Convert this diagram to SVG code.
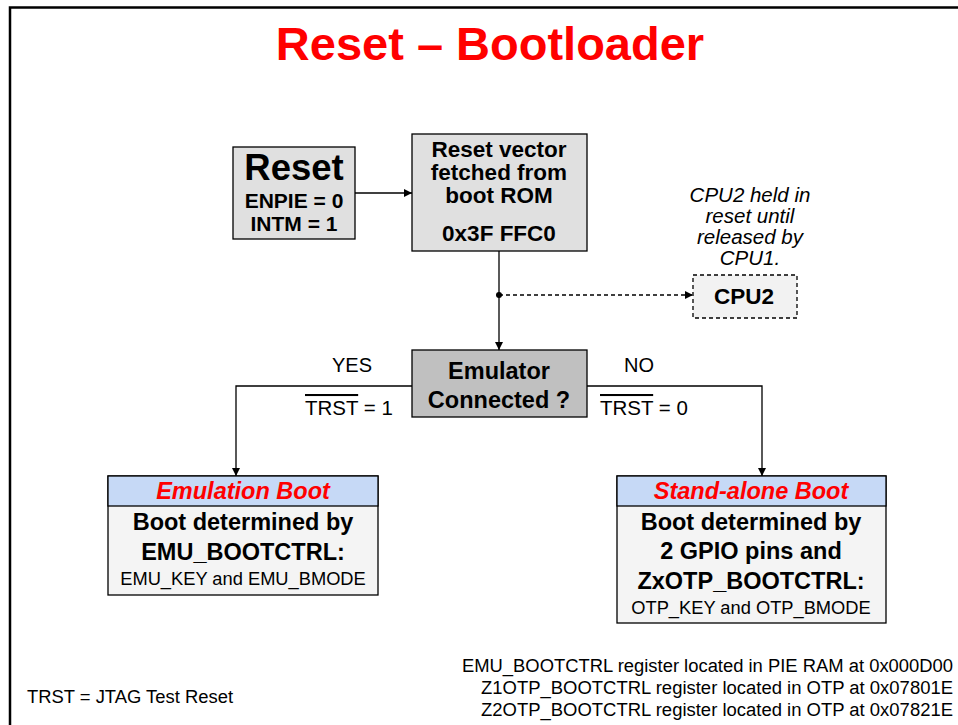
<svg xmlns="http://www.w3.org/2000/svg" width="958" height="725" viewBox="0 0 958 725">
<defs>
<marker id="ah" viewBox="0 0 10 10" refX="10" refY="5" markerWidth="8" markerHeight="8" markerUnits="userSpaceOnUse" orient="auto"><path d="M0,0 L10,5 L0,10 z" fill="#000"/></marker>
<style>
text{font-family:"Liberation Sans",Arial,sans-serif;fill:#000}
.b{font-weight:bold}
.box{stroke:#000;stroke-width:1.3}
.c{text-anchor:middle}
.line{fill:none;stroke:#000;stroke-width:1.3}
.hdr{font-weight:bold;font-style:italic;fill:#ff0000;font-size:23.5px}
.big{font-weight:bold;font-size:23.5px;text-anchor:middle}
.rv{font-weight:bold;font-size:22.5px;text-anchor:middle}
.note{font-size:20.5px;font-style:italic;text-anchor:middle}
.ft{font-size:18px}
</style>
</defs>
<rect width="958" height="725" fill="#fff"/>
<path d="M10,725 V7.5 H958" fill="none" stroke="#000" stroke-width="2.5"/>
<text x="490" y="60" class="b c" font-size="47" style="fill:#ff0000">Reset – Bootloader</text>

<g id="connectors">
<line class="line" x1="355" y1="193" x2="412" y2="193" marker-end="url(#ah)"/>
<line class="line" x1="499" y1="251" x2="499" y2="350" marker-end="url(#ah)"/>
<circle cx="499" cy="295" r="3" fill="#000"/>
<line class="line" x1="499" y1="295" x2="693" y2="295" stroke-dasharray="4,3" marker-end="url(#ah)"/>
<polyline class="line" points="412,386 236,386 236,476" marker-end="url(#ah)"/>
<polyline class="line" points="587,386 762,386 762,476" marker-end="url(#ah)"/>
</g>

<g id="reset">
<rect class="box" x="233" y="147" width="122" height="92" fill="#e0e0e0"/>
<text x="294" y="180" class="b c" font-size="36.5">Reset</text>
<text x="294" y="208" class="b c" font-size="21">ENPIE = 0</text>
<text x="294" y="231" class="b c" font-size="21">INTM = 1</text>
</g>

<g id="resetvector">
<rect class="box" x="412" y="134" width="175" height="117" fill="#e0e0e0"/>
<text x="499" y="157" class="rv">Reset vector</text>
<text x="499" y="180" class="rv">fetched from</text>
<text x="499" y="203" class="rv">boot ROM</text>
<text x="499" y="241" class="rv">0x3F FFC0</text>
</g>

<g id="note">
<text x="750" y="202" class="note">CPU2 held in</text>
<text x="750" y="223" class="note">reset until</text>
<text x="750" y="244" class="note">released by</text>
<text x="750" y="265" class="note">CPU1.</text>
</g>

<g id="cpu2">
<rect class="box" x="693" y="275" width="104" height="43" fill="#f2f2f2" stroke-dasharray="4,3"/>
<text x="744" y="304" class="b c" font-size="22.5">CPU2</text>
</g>

<g id="emulator">
<rect class="box" x="412" y="350" width="175" height="67" fill="#c0c0c0"/>
<text x="499" y="379" class="big">Emulator</text>
<text x="499" y="408" class="big">Connected ?</text>
</g>

<g id="labels">
<text x="352" y="372" class="c" font-size="20">YES</text>
<text x="639" y="372" class="c" font-size="20">NO</text>
<text x="305" y="415" font-size="20.5"><tspan text-decoration="overline">TRST</tspan> = 1</text>
<text x="600" y="415" font-size="20.5"><tspan text-decoration="overline">TRST</tspan> = 0</text>
</g>

<g id="emulationboot">
<rect class="box" x="108" y="476" width="270" height="119" fill="#f4f4f4"/>
<rect class="box" x="108" y="476" width="270" height="30" fill="#c6d9f6"/>
<text x="243" y="499" class="hdr c">Emulation Boot</text>
<text x="243" y="530" class="big">Boot determined by</text>
<text x="243" y="560" class="big">EMU_BOOTCTRL:</text>
<text x="243" y="585" class="c" font-size="18.3">EMU_KEY and EMU_BMODE</text>
</g>

<g id="standaloneboot">
<rect class="box" x="617" y="476" width="269" height="147" fill="#f4f4f4"/>
<rect class="box" x="617" y="476" width="269" height="30" fill="#c6d9f6"/>
<text x="751" y="499" class="hdr c">Stand-alone Boot</text>
<text x="751" y="530" class="big">Boot determined by</text>
<text x="751" y="559" class="big">2 GPIO pins and</text>
<text x="751" y="589" class="big">ZxOTP_BOOTCTRL:</text>
<text x="751" y="614" class="c" font-size="18.3">OTP_KEY and OTP_BMODE</text>
</g>

<g id="footer">
<text x="27" y="703" class="ft" textLength="206" lengthAdjust="spacingAndGlyphs">TRST = JTAG Test Reset</text>
<text x="462" y="672" class="ft" textLength="491" lengthAdjust="spacingAndGlyphs">EMU_BOOTCTRL register located in PIE RAM at 0x000D00</text>
<text x="481" y="694" class="ft" textLength="472" lengthAdjust="spacingAndGlyphs">Z1OTP_BOOTCTRL register located in OTP at 0x07801E</text>
<text x="481" y="716" class="ft" textLength="472" lengthAdjust="spacingAndGlyphs">Z2OTP_BOOTCTRL register located in OTP at 0x07821E</text>
</g>
</svg>
